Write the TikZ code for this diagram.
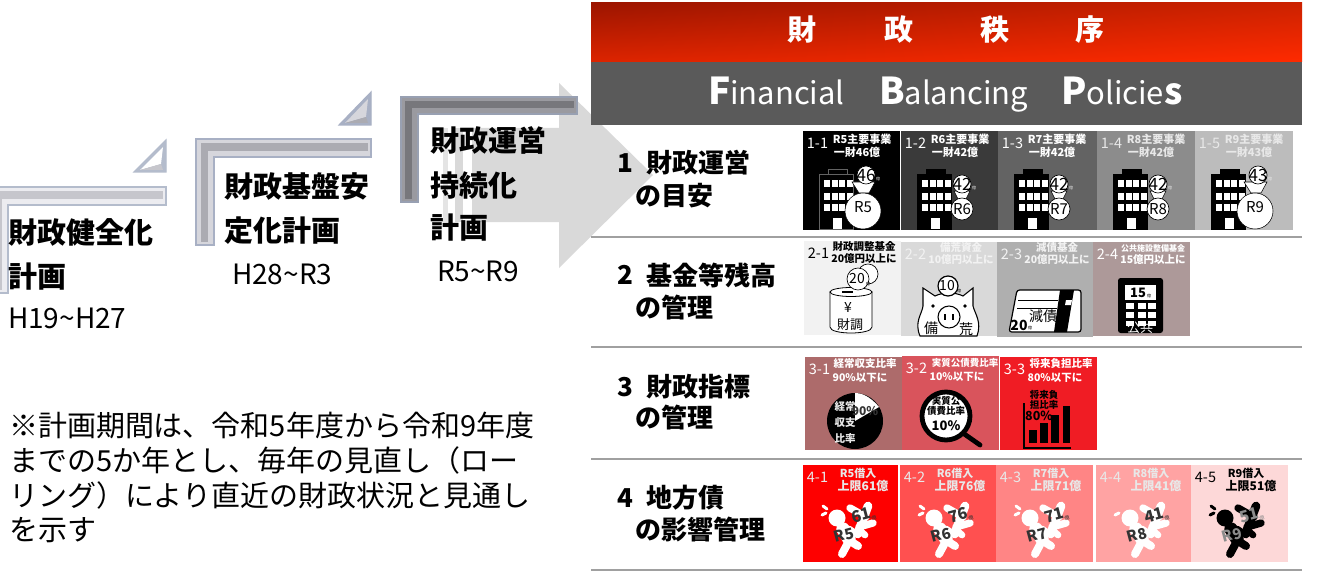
\documentclass[tikz,border=0pt]{standalone}
\usetikzlibrary{shadings}
\usepackage{fontspec}
\setmainfont{Noto Sans CJK JP}
\newcommand\fs[1]{\fontsize{\dimexpr#1pt*3/4\relax}{\dimexpr#1pt*9/10\relax}\selectfont}
\definecolor{hdA}{HTML}{9C1500}\definecolor{hdB}{HTML}{CC2200}\definecolor{hdC}{HTML}{FF2A00}\definecolor{hdD}{HTML}{DC2400}
\definecolor{hdGray}{HTML}{5A5A5A}\definecolor{rowline}{HTML}{A0A0A0}\definecolor{arrowgray}{HTML}{D9D9D9}
\definecolor{bvE}{HTML}{B4BCCC}\definecolor{bvA}{HTML}{ECECF0}\definecolor{bvB}{HTML}{C6C6CC}
\definecolor{bwE}{HTML}{A8B0C4}\definecolor{bwA}{HTML}{D6D6DC}\definecolor{bwB}{HTML}{ABABB2}
\definecolor{bxE}{HTML}{98A0B2}\definecolor{bxA}{HTML}{9A9AA0}\definecolor{bxB}{HTML}{77777C}
\definecolor{gA}{HTML}{3A3A3A}\definecolor{gB}{HTML}{636363}\definecolor{gC}{HTML}{8C8C8C}\definecolor{gD}{HTML}{BCBCBC}
\definecolor{sA}{HTML}{F2F2F2}\definecolor{sB}{HTML}{D9D9D9}\definecolor{sC}{HTML}{AFAFAF}\definecolor{sD}{HTML}{AD9999}
\definecolor{rA}{HTML}{AD6B6B}\definecolor{rB}{HTML}{D9545C}\definecolor{rC}{HTML}{F01C24}
\definecolor{pA}{HTML}{FE0000}\definecolor{pB}{HTML}{FF5050}\definecolor{pC}{HTML}{FF8585}\definecolor{pD}{HTML}{FFA3A3}\definecolor{pE}{HTML}{FDD8D8}
\definecolor{darktxt}{HTML}{333333}\definecolor{softtxt}{HTML}{E8E8E8}
\tikzset{
  txt/.style={inner sep=0pt,outer sep=0pt,text=black},
  hd/.style={txt,anchor=center,text=white,font=\bfseries\fs{29}},
  plan/.style={txt,anchor=west,font=\bfseries\fs{29}},
  period/.style={txt,anchor=west,font=\fs{28}},
  rowh/.style={txt,anchor=west,font=\bfseries\fs{26}},
  notet/.style={txt,anchor=west,font=\fs{29}},
}
% L-shaped bevel: x0 y0 x1 y1 thick edge band mid
\newcommand\bevel[8]{%
  \fill[#7,draw=#6,line width=0.9pt] (#1,#4)--(#1,#2)--(#3,#2)--(#3,{#2+#5})--({#1+#5},{#2+#5})--({#1+#5},#4)--cycle;
  \draw[#8,line width={(#5)*0.30pt}] ({#1+#5*0.45},{#4-3})--({#1+#5*0.45},{#2+#5*0.45})--({#3-3},{#2+#5*0.45});
}
% bevel triangle: left x, bottom y, right x, top y
\newcommand\bevtri[7]{%
  \fill[#5,draw=#5,line width=0.8pt] (#1,#2)--(#3,#4)--(#3,#2)--cycle;
  \fill[#6] ({#1+6},{#2-2})--({#3-3},{#4+7})--({#3-5},{#2-8})--cycle;
  \fill[#7] ({#1+6},{#2-2})--({#3-5},{#2-8})--({#3-3},{#2-2})--cycle;
}
% tile: id w h bg fg lab l1 l2
\newcommand\lxA{59}\newcommand\lxB{54}\newcommand\lyA{8}\newcommand\lyB{21}\newcommand\lfsA{11}\newcommand\lfsB{11}
\newcommand\tile[8]{%
  \fill[#4] (0,0) rectangle (#2,#3);
  \node[txt,text=#5,font=\fs{14.5}] (#1lab) at (14.5,12.5) {#6};
  \node[txt,text=#5,font=\bfseries\fs{\lfsA}] (#1la) at (\lxA,\lyA) {#7};
  \node[txt,text=#5,font=\bfseries\fs{\lfsB}] (#1lb) at (\lxB,\lyB) {#8};
}
% building: outline colour
\newcommand\bldg[1]{%
  \fill[black,draw=#1,line width=0.6pt] (25,38) rectangle (44,44);
  \fill[black,draw=#1,line width=0.6pt] (16,43) rectangle (50,98);
  \foreach \wy in {49,62,73}{\foreach \wx in {20.5,29,36,44}{\fill[white] (\wx,\wy) rectangle ++(6,7);}}
  \fill[white] (30,87) rectangle (39,98);
}
% money bag large: id coin R
\newcommand\bagbig[3]{%
  \fill[white,draw=black,line width=0.4pt] (49,51)--(72,51)--(66,62)--(56,62)--cycle;
  \fill[white,draw=black,line width=0.4pt] (60,80) circle[radius=18];
  \node[txt,font=\fs{15}] (#1r) at (60,76) {#3};
  \fill[white,draw=black,line width=0.5pt] (63,44) circle[radius=9];
  \node[txt,font=\fs{17}] (#1c) at (63,44) {#2};
  \node[txt,text=softtxt,font=\fs{4}] (#1u) at (75,48) {億};
}
\newcommand\bagsmall[3]{%
  \fill[white,draw=black,line width=0.4pt] (53,60)--(69,60)--(65,68)--(57,68)--cycle;
  \fill[white,draw=black,line width=0.5pt] (61,78) circle[radius=11];
  \node[txt,font=\fs{15}] (#1r) at (61,78) {#3};
  \fill[white,draw=black,line width=0.5pt] (61,53) circle[radius=9];
  \node[txt,font=\fs{17}] (#1c) at (61,53) {#2};
  \node[txt,text=softtxt,font=\fs{4}] (#1u) at (73,57) {億};
}
% hit figure: id fg numcolor Rcolor num R
\newcommand\hitfig[6]{%
  \draw[#2,line width=6.5pt,line cap=round] (65,41)--(56,65);
  \draw[#2,line width=5.5pt,line cap=round] (47,43)--(63,52);
  \draw[#2,line width=5.5pt,line cap=round] (70,58)--(56,62);
  \draw[#2,line width=5pt,line cap=round] (56,65)--(62,70);
  \fill[#2] (34,53) circle[radius=8.5];
  \draw[#2,line width=10pt,line cap=round] (40,64)--(46,74);
  \draw[#2,line width=6pt,line cap=round] (46,76)--(39,89);
  \draw[#2,line width=6pt,line cap=round] (47,76)--(55,81);
  \draw[#2,line width=5pt,line cap=round] (46,64)--(55,70);
  \draw[#2,line width=2.2pt,line cap=round] (19,50)--(23,48);
  \node[txt,text=#3,font=\bfseries\fs{16},rotate=15] (#1n) at (58,50) {#5};
  \node[txt,text=#3,font=\fs{5},rotate=15] (#1u) at (71,53) {億};
  \node[txt,text=#4,font=\bfseries\fs{15},rotate=15] (#1r) at (41,70) {#6};
}
\newcommand\spark[1]{\draw[#1,line width=2.2pt,line cap=round] (20,41)--(24,44);}
\begin{document}
\begin{tikzpicture}[x=0.75pt,y=-0.75pt]
\clip (0,0) rectangle (1317,574);
\fill[white] (0,0) rectangle (1317,574);
% big arrow
\fill[arrowgray] (472,128)--(559,128)--(559,83)--(653,175)--(559,268)--(559,222)--(472,222)--cycle;
\fill[arrowgray!70] (443,128) rectangle (448,222);
\fill[arrowgray] (455,128) rectangle (463,222);
% bevels
\bevel{-10}{187}{166}{293}{18}{bvE}{bvA}{bvB}
\bevtri{134}{172}{166}{140}{bvE}{white}{bvB}
\bevel{196}{139}{371}{245}{18}{bwE}{bwA}{bwB}
\bevtri{339}{125}{371}{92}{bwE}{bwA}{bwB}
\bevel{401}{97}{577}{202}{17}{bxE}{bxA}{bxB}
% left titles
\node[plan] (p1a) at (8,232) {財政健全化};
\node[plan] (p1b) at (8,277) {計画};
\node[period] (p1c) at (8,318) {H19\textasciitilde H27};
\node[plan] (p2a) at (224,187) {財政基盤安};
\node[plan] (p2b) at (224,231) {定化計画};
\node[period] (p2c) at (232,274) {H28\textasciitilde R3};
\node[plan] (p3a) at (430,140) {財政運営};
\node[plan] (p3b) at (430,185) {持続化};
\node[plan] (p3c) at (430,228) {計画};
\node[period] (p3d) at (437,271) {R5\textasciitilde R9};
% note
\node[notet] (n1) at (9,425) {※計画期間は、令和5年度から令和9年度};
\node[notet] (n2) at (9,460) {までの5か年とし、毎年の見直し（ロー};
\node[notet] (n3) at (9,495) {リング）により直近の財政状況と見通し};
\node[notet] (n4) at (9,530) {を示す};
% header
\shade[upper left=hdA,upper right=hdB,lower right=hdC,lower left=hdD] (591,3) rectangle (1302,62);
\fill[hdGray] (591,62) rectangle (1302,125);
\node[hd] (h1) at (802,30) {財};
\node[hd] (h2) at (899,30) {政};
\node[hd] (h3) at (995,30) {秩};
\node[hd] (h4) at (1090,30) {序};
\node[txt,anchor=base west,text=white,font=\fs{31}] (e1) at (708,105) {\fs{37}\bfseries F\fs{31}\mdseries inancial};
\node[txt,anchor=base west,text=white,font=\fs{31}] (e2) at (879,105) {\fs{37}\bfseries B\fs{31}\mdseries alancing};
\node[txt,anchor=base west,text=white,font=\fs{31}] (e3) at (1061,105) {\fs{37}\bfseries P\fs{31}\mdseries olicie\fs{36}\bfseries s};
% row rules
\foreach \ry in {237,347,459,570}{\draw[rowline,line width=1.6pt] (591,\ry)--(1302,\ry);}
% row headings
\node[rowh] (r1n) at (617,163) {1};\node[rowh] (r1a) at (646,163) {財政運営};\node[rowh] (r1b) at (635,196) {の目安};
\node[rowh] (r2n) at (617,275) {2};\node[rowh] (r2a) at (646,275) {基金等残高};\node[rowh] (r2b) at (635,308) {の管理};
\node[rowh] (r3n) at (617,387) {3};\node[rowh] (r3a) at (646,387) {財政指標};\node[rowh] (r3b) at (635,418) {の管理};
\node[rowh] (r4n) at (617,498) {4};\node[rowh] (r4a) at (646,498) {地方債};\node[rowh] (r4b) at (635,530) {の影響管理};
% ---- row 1
\begin{scope}[shift={(803,131)}]\tile{a1}{97}{99}{black}{white}{1-1}{R5主要事業}{一財46億}\bldg{gB}\bagbig{a1}{46}{R5}\end{scope}
\begin{scope}[shift={(901,131)}]\tile{a2}{97}{99}{gA}{white}{1-2}{R6主要事業}{一財42億}\bldg{black}\bagsmall{a2}{42}{R6}\end{scope}
\begin{scope}[shift={(998,131)}]\tile{a3}{99}{99}{gB}{white}{1-3}{R7主要事業}{一財42億}\bldg{black}\bagsmall{a3}{42}{R7}\end{scope}
\begin{scope}[shift={(1097,131)}]\tile{a4}{98}{99}{gC}{softtxt}{1-4}{R8主要事業}{一財42億}\bldg{black}\bagsmall{a4}{42}{R8}\end{scope}
\begin{scope}[shift={(1195,131)}]\tile{a5}{98}{99}{gD}{softtxt}{1-5}{R9主要事業}{一財43億}\bldg{black}\bagbig{a5}{43}{R9}\end{scope}
% ---- row 2
\renewcommand\lxA{60}\renewcommand\lxB{60}\renewcommand\lyA{6}\renewcommand\lyB{18}\renewcommand\lfsA{10.5}\renewcommand\lfsB{10.5}
\begin{scope}[shift={(804,241)}]\tile{b1}{97}{94}{sA}{black}{2-1}{財政調整基金}{20億円以上に}
  \fill[white,draw=black,line width=0.6pt] (26,51)--(26,86) .. controls (26,94) and (68,94) .. (68,86)--(68,51)--cycle;
  \fill[white,draw=black,line width=0.6pt] (47,51) ellipse[x radius=21,y radius=4.5];
  \draw[black,line width=0.8pt] (38,51)--(49,51);
  \node[txt,font=\fs{14}] (b1y) at (44,67) {¥};
  \node[txt,font=\fs{13}] (b1t) at (46,84) {財調};
  \fill[white,draw=black,line width=0.5pt] (64,33) circle[radius=10];
  \fill[white,draw=black,line width=0.5pt] (54,38) circle[radius=11];
  \node[txt,font=\fs{14}] (b1c) at (53,38) {20};
  \node[txt,font=\fs{4}] (b1u) at (64,43) {億};
\end{scope}
\begin{scope}[shift={(901,242)}]\tile{b2}{96}{94}{sB}{sA}{2-2}{備荒資金}{10億円以上に}
  \fill[white,draw=black,line width=0.8pt] (19,94) .. controls (13,80) and (21,72) .. (22,64) -- (22,46) -- (34,54) .. controls (42,50) and (54,50) .. (62,54) -- (72,46) -- (72,64) .. controls (74,72) and (81,80) .. (76,94) -- cycle;
  \fill[white,draw=black,line width=0.9pt] (47,44) circle[radius=10];
  \node[txt,font=\fs{14}] (b2c) at (46,44) {10};
  \node[txt,font=\fs{4}] (b2u) at (58,49) {億};
  \fill[white,draw=black,line width=0.8pt] (48,75) circle[radius=11];
  \draw[black,line width=0.9pt] (44,72)--(44,78);\draw[black,line width=0.9pt] (52,72)--(52,78);
  \fill[black] (32,64) circle[radius=1.8];\fill[black] (64,64) circle[radius=1.8];
  \node[txt,font=\fs{14}] (b2a) at (30,86) {備};
  \node[txt,font=\fs{14}] (b2b) at (65,87) {荒};
\end{scope}
\begin{scope}[shift={(997,242)}]\tile{b3}{96}{95}{sC}{sA}{2-3}{減債基金}{20億円以上に}
  \fill[white,draw=black,line width=0.9pt,rounded corners=2pt] (20,48)--(84,48)--(84,90)--(12,90)--cycle;
  \fill[black] (63,48)--(77,48)--(70,90)--(57,90)--cycle;
  \fill[white] (69,58)--(75,58)--(74,63)--(68,63)--cycle;
  \draw[black,line width=0.5pt] (21,58)--(61,58);
  \draw[black,line width=0.5pt] (20,66)--(60,66);
  \node[txt,font=\fs{14}] (b3a) at (46,74) {減債};
  \node[txt,font=\bfseries\fs{14}] (b3b) at (22,83) {20};
  \node[txt,font=\fs{4}] (b3u) at (33,86) {億};
\end{scope}
\begin{scope}[shift={(1093,242)}]\renewcommand\lfsA{8}\tile{b4}{97}{94}{sD}{white}{2-4}{公共施設整備基金}{15億円以上に}
  \fill[black,rounded corners=2pt] (25,36) rectangle (70,91);
  \fill[white] (32,43) rectangle (63,58);
  \node[txt,font=\bfseries\fs{13}] (b4c) at (45,51) {15};
  \node[txt,font=\fs{4}] (b4u) at (56,54) {億};
  \foreach \by in {61,70,79}{\foreach \bx in {33,45,55}{\fill[white] (\bx,\by) rectangle ++(8,6);}}
  \fill[black] (30,84) rectangle (66,91);
  \node[txt,text=white,font=\fs{13}] (b4a) at (47,86) {公共};
\end{scope}
% ---- row 3
\renewcommand\lxA{60}\renewcommand\lxB{55}\renewcommand\lyA{7}\renewcommand\lyB{21}
\begin{scope}[shift={(805,357)}]\tile{c1}{97}{93}{rA}{white}{3-1}{経常収支比率}{90\%以下に}
  \fill[black] (50,64) circle[radius=28];
  \fill[white] (50,64)--(50,36) .. controls (60,36) and (68,43) .. (74,50)--cycle;
  \node[txt,text=softtxt,font=\bfseries\fs{10.5}] (c1a) at (40,50) {経常};
  \node[txt,text=softtxt,font=\bfseries\fs{10.5}] (c1b) at (40,66) {収支};
  \node[txt,text=softtxt,font=\bfseries\fs{10.5}] (c1c) at (40,82) {比率};
  \node[txt,text=darktxt,font=\bfseries\fs{12}] (c1d) at (60,54) {90\%};
\end{scope}
\begin{scope}[shift={(902,356)}]\renewcommand\lfsA{9.5}\renewcommand\lxA{63}\tile{c2}{97}{94}{rB}{white}{3-2}{実質公債費比率}{10\%以下に}
  \draw[black,line width=3.6pt,line cap=round] (58,75)--(78,89);
  \fill[white,draw=black,line width=3.6pt] (44,60) circle[radius=24];
  \node[txt,font=\bfseries\fs{9.5}] (c2a) at (44,45) {実質公};
  \node[txt,font=\bfseries\fs{9.5}] (c2b) at (44,55) {債費比率};
  \node[txt,font=\bfseries\fs{13}] (c2c) at (44,70) {10\%};
\end{scope}
\begin{scope}[shift={(1000,357)}]\renewcommand\lxA{61}\tile{c3}{97}{93}{rC}{white}{3-3}{将来負担比率}{80\%以下に}
  \draw[black,line width=2.2pt] (24,46)--(24,91)--(71,91);
  \fill[black] (29,73) rectangle (37,86);
  \fill[black] (40,66) rectangle (48,86);
  \fill[black] (51,58) rectangle (59,86);
  \fill[black] (63,49) rectangle (70,86);
  \node[txt,font=\bfseries\fs{9.5}] (c3a) at (44,38) {将来負};
  \node[txt,font=\bfseries\fs{9.5}] (c3b) at (44,48) {担比率};
  \node[txt,font=\bfseries\fs{12.5}] (c3c) at (39,59) {80\%};
\end{scope}
% ---- row 4
\renewcommand\lxA{55}\renewcommand\lxB{60}\renewcommand\lyA{8}\renewcommand\lyB{21}\renewcommand\lfsA{11}\renewcommand\lfsB{12}
\begin{scope}[shift={(803,465)}]\tile{d1}{95}{97}{pA}{softtxt}{4-1}{R5借入}{上限61億}\hitfig{d1}{white}{darktxt}{darktxt}{61}{R5}\spark{white}\end{scope}
\begin{scope}[shift={(900,465)}]\tile{d2}{96}{97}{pB}{softtxt}{4-2}{R6借入}{上限76億}\hitfig{d2}{white}{darktxt}{darktxt}{76}{R6}\spark{white}\end{scope}
\begin{scope}[shift={(996,465)}]\tile{d3}{97}{97}{pC}{softtxt}{4-3}{R7借入}{上限71億}\hitfig{d3}{white}{darktxt}{darktxt}{71}{R7}\spark{white}\end{scope}
\begin{scope}[shift={(1096,465)}]\tile{d4}{95}{97}{pD}{softtxt}{4-4}{R8借入}{上限41億}\hitfig{d4}{white}{darktxt}{darktxt}{41}{R8}\end{scope}
\begin{scope}[shift={(1191,465)}]\tile{d5}{97}{97}{pE}{black}{4-5}{R9借入}{上限51億}\hitfig{d5}{black}{gC}{gC}{51}{R9}\spark{black}\end{scope}
\end{tikzpicture}
\end{document}
